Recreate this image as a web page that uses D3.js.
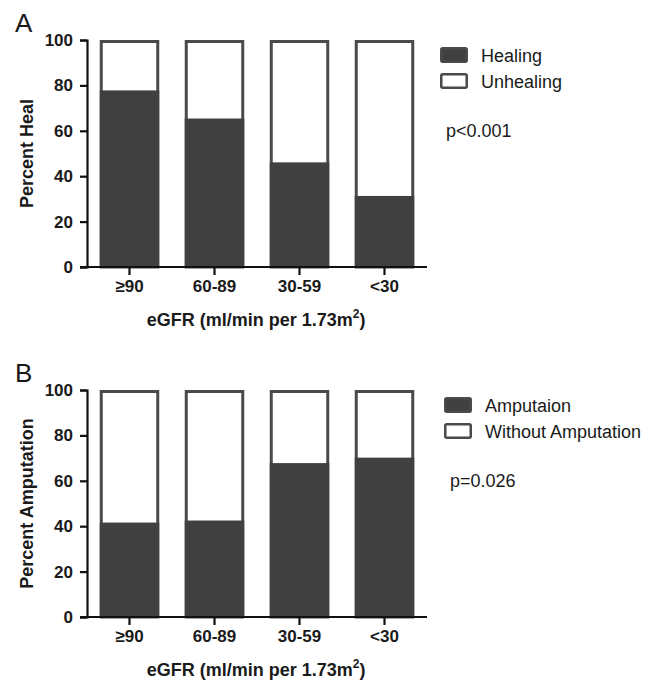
<!DOCTYPE html>
<html>
<head>
<meta charset="utf-8">
<script src="https://cdn.jsdelivr.net/npm/d3@7"></script>
<style>
  body { margin: 0; background: #fff; }
  text { font-family: "Liberation Sans", Arial, sans-serif; fill: #1a1a1a; }
</style>
</head>
<body>
<svg id="chart" width="649" height="682"></svg>
<script>
const categories = ['≥90', '60-89', '30-59', '<30'];
const yTicks = [0, 20, 40, 60, 80, 100];

const healing = [77.8, 65.4, 46.1, 31.3];
const amputation = [41.6, 42.5, 67.8, 70.2];

const legendA = ['Healing', 'Unhealing'];
const legendB = ['Amputaion', 'Without Amputation'];

const darkFill = '#404040';
const barStroke = '#4a4a4a';
const fontFam = '"Liberation Sans", Arial, sans-serif';

const svg = d3.select('#chart');

// one panel = one stacked percent chart
const drawPanel = (top, letter, yTitle, values, legend, pText, legX) => {
  const g = svg.append('g');
  const yTopPx = top + 40, yBottomPx = top + 267;

  const x = d3.scaleBand()
    .domain(categories)
    .range([87, 427])
    .paddingInner(0.3)
    .paddingOuter(0.15);

  const y = d3.scaleLinear()
    .domain([0, 100])
    .range([yBottomPx, yTopPx]);

  // panel letter
  g.append('text')
    .attr('x', 15).attr('y', top + 32)
    .attr('font-size', 26)
    .text(letter);

  // bars: full outline (white) + dark lower part
  g.selectAll('rect.full')
    .data(values)
    .join('rect')
    .attr('class', 'full')
    .attr('x', (d, i) => x(categories[i]) + 1.5)
    .attr('y', y(100) + 1.5)
    .attr('width', x.bandwidth() - 3)
    .attr('height', y(0) - y(100) - 1.5)
    .attr('fill', '#fff')
    .attr('stroke', barStroke)
    .attr('stroke-width', 3);

  g.selectAll('rect.part')
    .data(values)
    .join('rect')
    .attr('class', 'part')
    .attr('x', (d, i) => x(categories[i]))
    .attr('y', d => y(d))
    .attr('width', x.bandwidth())
    .attr('height', d => y(0) - y(d))
    .attr('fill', darkFill);

  // y axis
  const yAxis = g.append('g')
    .attr('transform', 'translate(87,0)')
    .call(d3.axisLeft(y).tickValues(yTicks).tickSize(7).tickPadding(7));
  yAxis.attr('font-size', 17).attr('font-family', fontFam);
  yAxis.select('.domain').attr('stroke', '#111').attr('stroke-width', 2.2);
  yAxis.selectAll('.tick line').attr('stroke', '#111').attr('stroke-width', 2.2);
  yAxis.selectAll('.tick text')
    .attr('font-weight', 'bold')
    .attr('fill', '#1a1a1a');

  // x axis
  const xAxis = g.append('g')
    .attr('transform', `translate(0,${yBottomPx})`)
    .call(d3.axisBottom(x).tickSize(8).tickPadding(5).tickSizeOuter(0));
  xAxis.attr('font-size', 17).attr('font-family', fontFam);
  xAxis.select('.domain').attr('d', 'M80,0H427').attr('stroke', '#111').attr('stroke-width', 2.2);
  xAxis.selectAll('.tick line').attr('stroke', '#111').attr('stroke-width', 2.2);
  xAxis.selectAll('.tick text')
    .attr('font-weight', 'bold')
    .attr('fill', '#1a1a1a');

  // axis titles
  g.append('text')
    .attr('transform', `translate(33,${(yTopPx + yBottomPx) / 2}) rotate(-90)`)
    .attr('text-anchor', 'middle')
    .attr('font-size', 18).attr('font-weight', 'bold')
    .text(yTitle);

  const xt = g.append('text')
    .attr('x', 256).attr('y', top + 326)
    .attr('text-anchor', 'middle')
    .attr('font-size', 18).attr('font-weight', 'bold');
  xt.append('tspan').text('eGFR (ml/min per 1.73m');
  xt.append('tspan').attr('dy', -8).attr('font-size', 12).text('2');
  xt.append('tspan').attr('dy', 8).text(')');

  // legend
  const lg = g.append('g').attr('transform', `translate(${legX},${top + 47})`);
  legend.forEach((name, i) => {
    lg.append('rect')
      .attr('x', 1.25).attr('y', i * 26 + 1.25)
      .attr('width', 25.5).attr('height', 13.5)
      .attr('rx', 1.5)
      .attr('fill', i === 0 ? darkFill : '#fff')
      .attr('stroke', barStroke).attr('stroke-width', 2.5);
    lg.append('text')
      .attr('x', 41).attr('y', i * 26 + 15)
      .attr('font-size', 18)
      .text(name);
  });

  g.append('text')
    .attr('x', legX + 6).attr('y', top + 137)
    .attr('font-size', 18)
    .text(pText);
};

drawPanel(0, 'A', 'Percent Heal', healing, legendA, 'p<0.001', 440);
drawPanel(350, 'B', 'Percent Amputation', amputation, legendB, 'p=0.026', 444);
</script>
</body>
</html>
